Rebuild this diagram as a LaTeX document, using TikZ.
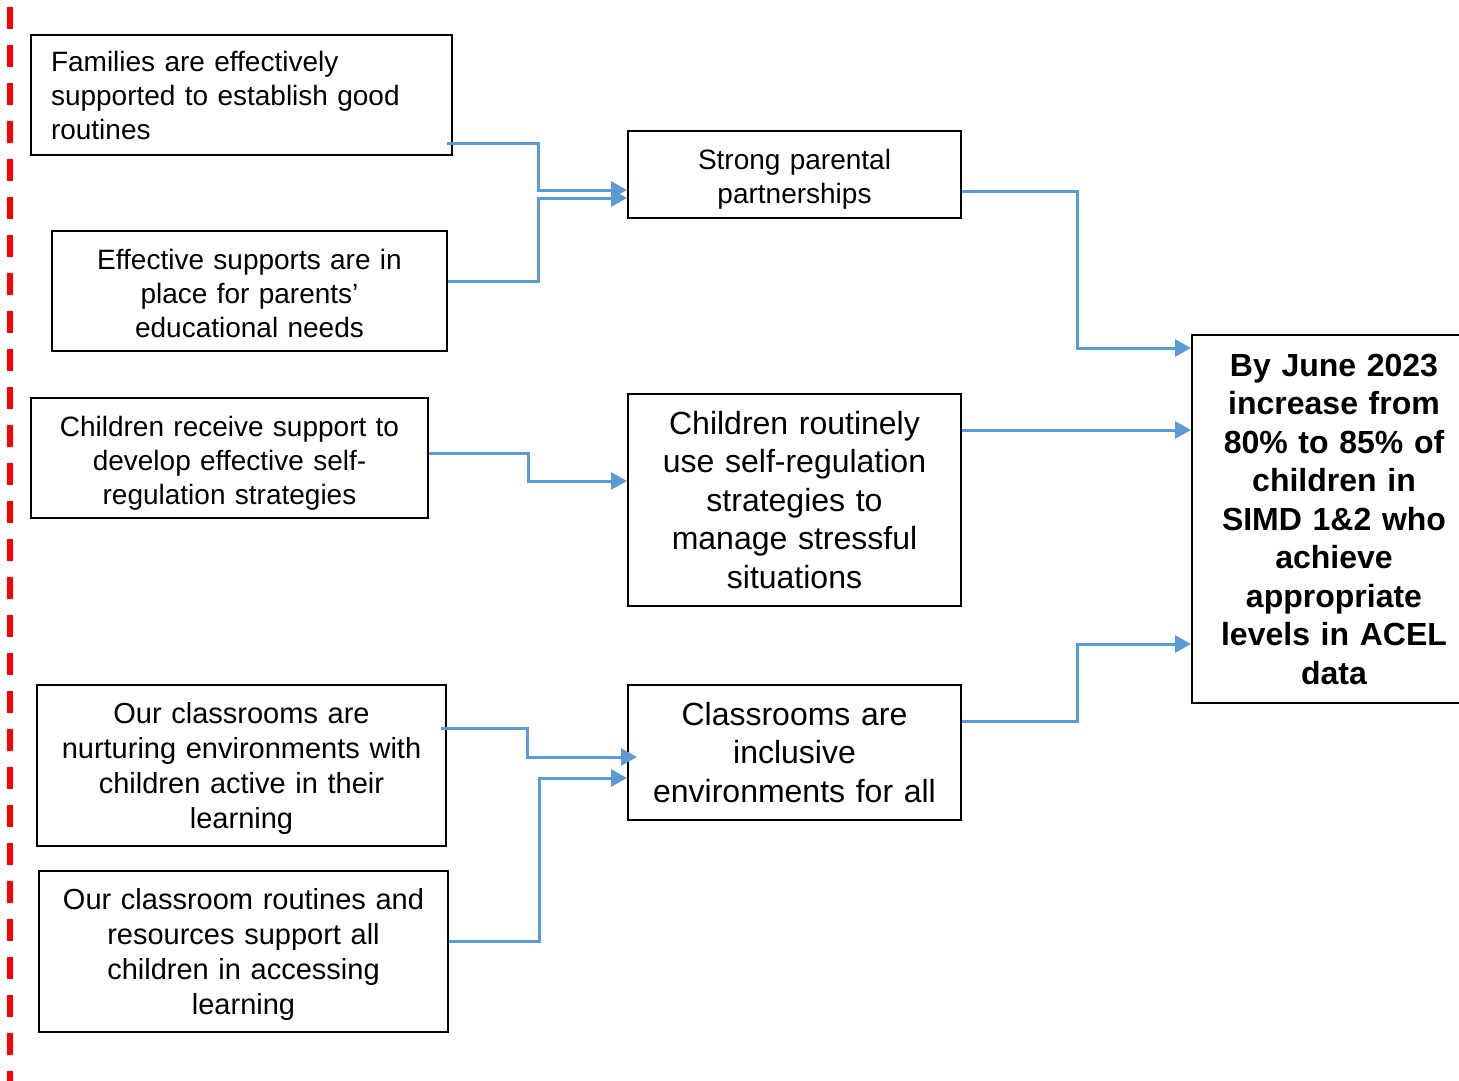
\documentclass[tikz,border=0pt]{standalone}
\usepackage{fontspec}
\setmainfont{Liberation Sans}
\usetikzlibrary{arrows.meta}
\definecolor{linkblue}{RGB}{91,155,213}
\tikzset{every picture/.style={line width=2pt}}
\tikzset{
  box/.style={draw, rectangle, inner sep=0pt, align=center, font=\fontsize{28}{34}\selectfont},
  bigbox/.style={box, font=\fontsize{32}{38.5}\selectfont},
  midbox/.style={box, font=\fontsize{29}{35}\selectfont},
  lower/.style={execute at begin node={\rule{0pt}{#1}}},
  link/.style={draw=linkblue, line width=3pt, -{Triangle[length=16pt,width=17pt]}},
}

\begin{document}
\begin{tikzpicture}[x=1pt, y=-1pt]
    \useasboundingbox (0,0) rectangle (1459,1081);
    \clip (0,0) rectangle (1459,1081);

    % Boundary line
    \draw[red, line width=5.5pt, dash pattern=on 22pt off 16pt] (10,7) -- (10,1081);

    % Left column: activities
    \node[box, align=left, minimum width=421pt, minimum height=120pt, text width=381pt] (families) at (241.5,95) {Families are effectively\\supported to establish good\\routines};
    \node[box, lower=24.5pt, minimum width=395pt, minimum height=120pt, text width=380pt] (supports) at (249.5,291) {Effective supports are in\\place for parents’\\educational needs};
    \node[box, lower=30.5pt, minimum width=397pt, minimum height=120pt, text width=380pt] (receive) at (229.5,458) {Children receive support to\\develop effective self-\\regulation strategies};
    \node[midbox, lower=27pt, minimum width=409pt, minimum height=161pt, text width=395pt] (nurturing) at (241.5,765.5) {Our classrooms are\\nurturing environments with\\children active in their\\learning};
    \node[midbox, lower=27pt, minimum width=409pt, minimum height=161pt, text width=395pt] (resources) at (243.5,951.5) {Our classroom routines and\\resources support all\\children in accessing\\learning};

    % Middle column: outcomes
    \node[box, lower=30.5pt, minimum width=333pt, minimum height=87pt, text width=320pt] (parental) at (794.5,174.5) {Strong parental\\partnerships};
    \node[bigbox, minimum width=333pt, minimum height=212pt, text width=320pt] (selfreg) at (794.5,500) {Children routinely\\use self-regulation\\strategies to\\manage stressful\\situations};
    \node[bigbox, minimum width=333pt, minimum height=135pt, text width=320pt] (inclusive) at (794.5,752.5) {Classrooms are\\inclusive\\environments for all};

    % Right column: aim
    \node[bigbox, font=\bfseries\fontsize{32}{38.5}\selectfont, minimum width=284pt, minimum height=368pt, text width=270pt] (aim) at (1334,519) {By June 2023\\increase from\\80\% to 85\% of\\children in\\SIMD 1\&2 who\\achieve\\appropriate\\levels in ACEL\\data};

    % Connections
    \draw[link] ([xshift=-6pt,yshift=-48pt]families.east) -- ++(91,0) |- ([yshift=-15.5pt]parental.west);
    \draw[link] ([yshift=10pt]supports.east) -- ++(90,0) |- ([yshift=-23.5pt]parental.west);
    \draw[link] ([yshift=5pt]receive.east) -- ++(99,0) |- ([yshift=19pt]selfreg.west);
    \draw[link] ([xshift=-6pt,yshift=37.5pt]nurturing.east) -- ++(86,0) |- ([xshift=10pt,yshift=-4.5pt]inclusive.west);
    \draw[link] ([yshift=10.5pt]resources.east) -- ++(90,0) |- ([yshift=-25.5pt]inclusive.west);
    \draw[link] ([yshift=-16.5pt]parental.east) -- ++(115,0) |- ([yshift=171pt]aim.west);
    \draw[link] ([yshift=70pt]selfreg.east) -- ([yshift=89pt]aim.west);
    \draw[link] ([yshift=31.5pt]inclusive.east) -- ++(115,0) |- ([yshift=-125pt]aim.west);
\end{tikzpicture}
\end{document}
